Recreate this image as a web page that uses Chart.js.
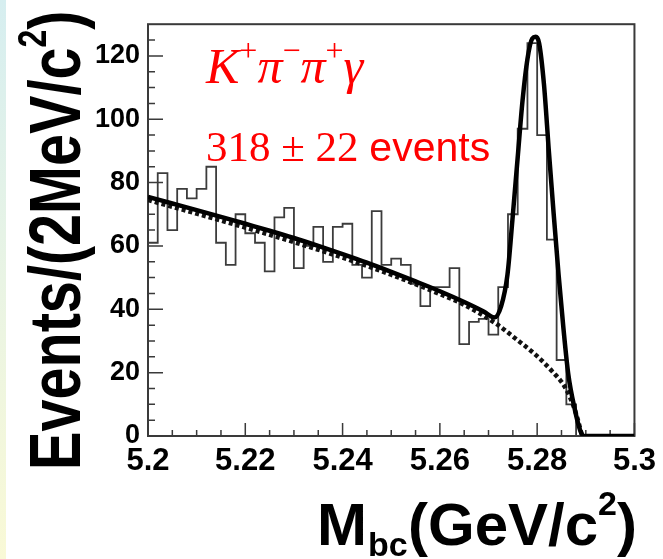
<!DOCTYPE html>
<html lang="en">
<head>
<meta charset="UTF-8">
<title>Mbc distribution, K+ pi- pi+ gamma</title>
<script src="https://cdn.jsdelivr.net/npm/chart.js@4.4.0/dist/chart.umd.min.js"></script>
<style>
  html, body { margin: 0; padding: 0; background: #fff; }
  body { width: 663px; height: 559px; overflow: hidden; position: relative; }
  /* thin tinted strip on the left edge of the slide */
  #strip { position: absolute; left: 0; top: 0; width: 6px; height: 559px;
           background: linear-gradient(#d6eef0, #e9f4e4 50%, #f9f9d6); }
  #mbc { position: absolute; left: 0; top: 0; }
</style>
</head>
<body>
<div id="strip"></div>
<canvas id="mbc" width="663" height="559" style="width:663px;height:559px"></canvas>
<script>
// Mbc histogram: 2 MeV/c^2 bins from 5.200 GeV/c^2
const binStart = 5.2;
const binWidth = 0.002;
const counts = [61, 83, 65, 78, 75, 78, 85, 61, 54, 70,
                64, 61, 52, 69, 72, 53, 60, 66, 55, 66,
                67, 54, 50, 71, 54, 56, 54, 48, 41, 47,
                47, 53, 29, 36, 37, 32, 47, 70, 97, 124,
                95, 62, 24, 10, 0, 0, 0, 0, 0, 0];

// total fit (signal + background)
const fitMass = [5.200, 5.205, 5.210, 5.215, 5.220, 5.225, 5.230, 5.235, 5.240, 5.245,
                 5.250, 5.255, 5.260, 5.265, 5.269, 5.2712, 5.2726, 5.2739, 5.2749, 5.2760,
                 5.2770, 5.2780, 5.2790, 5.2797, 5.2804, 5.2814, 5.2824, 5.2834, 5.2844, 5.2854,
                 5.2864, 5.2878, 5.2888, 5.2895, 5.300];
const fitValue = [75.5, 73.4, 71.3, 69.2, 67.0, 64.8, 62.5, 60.0, 57.4, 54.7,
                  51.8, 48.8, 45.7, 42.3, 39.3, 37.4, 41, 51, 68, 88,
                  106, 119, 125.5, 126, 124, 111, 90, 70, 51, 34,
                  19.5, 8, 2, 0, 0];

// ARGUS background component
const bkgMass = [5.200, 5.210, 5.220, 5.230, 5.240, 5.250, 5.260, 5.265,
                 5.2715, 5.2756, 5.2797, 5.2831, 5.2858, 5.2878, 5.2892];
const bkgValue = [74.5, 70.2, 65.8, 61.2, 56.3, 50.9, 44.8, 41.4,
                  35.5, 30.7, 25.6, 20.4, 15.2, 8, 0.3];

const xMajorTicks = [5.2, 5.22, 5.24, 5.26, 5.28, 5.3];
const xTickLabels = ['5.2', '5.22', '5.24', '5.26', '5.28', '5.3'];
const yMajorTicks = [0, 20, 40, 60, 80, 100, 120];
const yTickLabels = ['0', '20', '40', '60', '80', '100', '120'];
const xMinorStep = 0.005;
const yMinorStep = 5;

const SANS = '"Liberation Sans", Arial, Helvetica, sans-serif';
const SERIF = '"Liberation Serif", "Times New Roman", serif';

// step outline: one point per bin low edge, plus the closing edge
const histPoints = counts.map((c, i) => ({ x: binStart + i * binWidth, y: c }));
histPoints.push({ x: binStart + counts.length * binWidth, y: counts[counts.length - 1] });

const fitPoints = fitMass.map((m, i) => ({ x: m, y: fitValue[i] }));
const bkgPoints = bkgMass.map((m, i) => ({ x: m, y: bkgValue[i] }));

// draw a run of [text, font, dy] pieces one after another
function drawRun(ctx, x, y, parts) {
  parts.forEach(([txt, font, dy]) => {
    ctx.font = font;
    ctx.fillText(txt, x, y + (dy || 0));
    x += ctx.measureText(txt).width;
  });
  return x;
}

const frameAndText = {
  id: 'frameAndText',
  beforeDatasetsDraw(chart) {
    const { ctx, chartArea: a, scales: { x, y } } = chart;
    ctx.save();
    ctx.strokeStyle = '#3a3a3a';
    ctx.lineWidth = 2;
    ctx.strokeRect(a.left, a.top, a.right - a.left, a.bottom - a.top);

    // inward ticks, long at labelled values
    ctx.lineWidth = 1.5;
    ctx.beginPath();
    const nx = Math.round((x.max - x.min) / xMinorStep);
    for (let k = 0; k <= nx; k++) {
      const v = x.min + k * xMinorStep;
      const px = x.getPixelForValue(v);
      const major = xMajorTicks.some(t => Math.abs(t - v) < 1e-6);
      ctx.moveTo(px, a.bottom);
      ctx.lineTo(px, a.bottom - (major ? 13 : 6));
    }
    const ny = Math.round((y.max - y.min) / yMinorStep);
    for (let k = 0; k < ny; k++) {
      const v = y.min + k * yMinorStep;
      const py = y.getPixelForValue(v);
      const major = yMajorTicks.includes(v);
      ctx.moveTo(a.left, py);
      ctx.lineTo(a.left + (major ? 15 : 7), py);
    }
    ctx.stroke();
    ctx.restore();
  },
  afterDraw(chart) {
    const { ctx } = chart;
    ctx.save();
    ctx.textBaseline = 'alphabetic';
    ctx.textAlign = 'left';

    // decay mode and signal yield
    ctx.fillStyle = '#ff0000';
    drawRun(ctx, 206, 83, [
      ['K', 'italic 50px ' + SERIF],
      ['+', '32px ' + SERIF, -22],
      ['\u03C0', 'italic 50px ' + SERIF],
      ['\u2212', '32px ' + SERIF, -22],
      ['\u03C0', 'italic 50px ' + SERIF],
      ['+', '32px ' + SERIF, -22],
      ['\u03B3', 'italic 50px ' + SERIF]
    ]);
    drawRun(ctx, 206, 161, [
      ['318 \u00B1 22 ', '43px ' + SERIF],
      ['events', '41px ' + SANS]
    ]);

    // x axis title
    ctx.fillStyle = '#000';
    let xe = drawRun(ctx, 317, 545, [['M', 'bold 60px ' + SANS]]);
    drawRun(ctx, xe + 1, 556, [['bc', 'bold 34px ' + SANS]]);
    drawRun(ctx, 408, 545, [
      ['(GeV/c', 'bold 60px ' + SANS],
      ['2', 'bold 34px ' + SANS, -30],
      [')', 'bold 60px ' + SANS]
    ]);

    // y axis title, rotated and condensed along its length
    ctx.translate(80, 470);
    ctx.rotate(-Math.PI / 2);
    ctx.scale(0.8, 1);
    drawRun(ctx, 0, 0, [
      ['Events/(2MeV/c', 'bold 72px ' + SANS],
      ['2', 'bold 40px ' + SANS, -34],
      [')', 'bold 72px ' + SANS]
    ]);
    ctx.restore();
  }
};

new Chart(document.getElementById('mbc'), {
  type: 'line',
  data: {
    datasets: [
      {
        label: 'data',
        data: histPoints,
        // horizontal at each bin's count up to the next edge, then vertical
        stepped: 'before',
        borderColor: '#3c3c3c',
        borderWidth: 1.8,
        pointRadius: 0,
        fill: false,
        order: 3
      },
      {
        label: 'background',
        data: bkgPoints,
        borderColor: '#111',
        borderWidth: 4.5,
        borderDash: [4, 3],
        pointRadius: 0,
        fill: false,
        cubicInterpolationMode: 'monotone',
        order: 2
      },
      {
        label: 'fit',
        data: fitPoints,
        borderColor: '#000',
        borderWidth: 4.5,
        pointRadius: 0,
        fill: false,
        cubicInterpolationMode: 'monotone',
        order: 1
      }
    ]
  },
  options: {
    responsive: false,
    animation: false,
    events: [],
    layout: { padding: { left: 0, top: 15, right: 23, bottom: 0 } },
    plugins: {
      legend: { display: false },
      tooltip: { enabled: false }
    },
    scales: {
      x: {
        type: 'linear',
        min: 5.2,
        max: 5.3,
        afterBuildTicks: s => { s.ticks = xMajorTicks.map(v => ({ value: v })); },
        afterFit: s => { s.height = 123; },
        grid: { display: false, drawTicks: false },
        border: { display: false },
        ticks: {
          autoSkip: false,
          maxRotation: 0,
          minRotation: 0,
          padding: 7,
          color: '#000',
          font: { family: SANS, size: 31, weight: 'bold' },
          callback: (v, i) => xTickLabels[i]
        }
      },
      y: {
        min: 0,
        max: 130,
        afterBuildTicks: s => { s.ticks = yMajorTicks.map(v => ({ value: v })); },
        afterFit: s => { s.width = 148; },
        grid: { display: false, drawTicks: false },
        border: { display: false },
        ticks: {
          autoSkip: false,
          padding: 8,
          color: '#000',
          font: { family: SANS, size: 27, weight: 'bold' },
          callback: (v, i) => yTickLabels[i]
        }
      }
    }
  },
  plugins: [frameAndText]
});
</script>
</body>
</html>
